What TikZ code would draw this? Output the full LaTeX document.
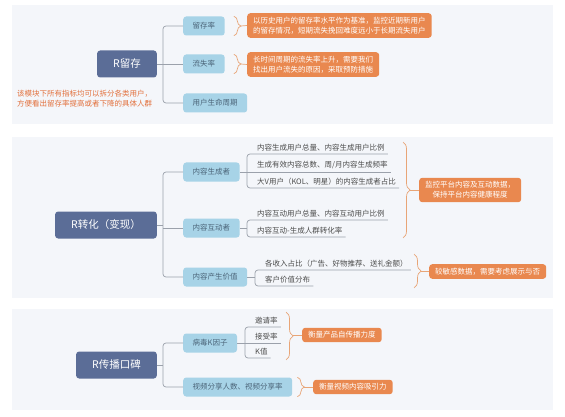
\documentclass[tikz,border=0pt]{standalone}
\usepackage{fontspec}
\setmainfont{Noto Sans CJK SC}
\usetikzlibrary{positioning,decorations.pathreplacing}
\definecolor{panelbg}{HTML}{F4F6FA}
\definecolor{rootblue}{HTML}{5B6D97}
\definecolor{childblue}{HTML}{A7D3E7}
\definecolor{childtext}{HTML}{4B6478}
\definecolor{noteorange}{HTML}{E9884F}
\definecolor{braceorange}{HTML}{E8A577}
\definecolor{linegrey}{HTML}{9BA1AB}
\definecolor{hintred}{HTML}{E2703C}

\begin{document}
\begin{tikzpicture}[x=1pt,y=-1pt,
  root/.style={fill=rootblue,rounded corners=3pt,text=white,font=\fontsize{10.5}{12}\selectfont,
              inner xsep=16pt,minimum height=27pt,anchor=east},
  child/.style={fill=childblue,rounded corners=3pt,text=childtext,font=\fontsize{7.5}{9}\selectfont,
              inner xsep=9.5pt,minimum height=19pt,anchor=west},
  leaf/.style={font=\fontsize{7.5}{9}\selectfont,text=black!70,inner xsep=3pt,inner ysep=2.5pt,anchor=south west},
  note/.style={fill=noteorange,rounded corners=3pt,text=white,font=\fontsize{7.5}{10}\selectfont,
              inner xsep=6pt,inner ysep=3.7pt,anchor=west},
  hint/.style={text=hintred,font=\fontsize{7.5}{10}\selectfont,align=left,anchor=west,inner sep=0pt},
  link/.style={draw=linegrey,line width=0.7pt,rounded corners=3pt},
  curl/.style={draw=braceorange,line width=0.7pt,decorate,decoration={brace,amplitude=7pt}},
  tick/.style={draw=braceorange,line width=0.7pt}]
\useasboundingbox (0,0) rectangle (565,417);
\fill[white] (0,0) rectangle (565,417);
\fill[panelbg] (12,5) rectangle (553,124);
\fill[panelbg] (12,137) rectangle (553,298);
\fill[panelbg] (12,309) rectangle (553,410);

% R留存
\node[root] (keep) at (157,64) {R留存};
\node[child] (rate) at (183,26) {留存率};
\node[child] (churn) at (183,64) {流失率};
\node[child] (life) at (183,103) {用户生命周期};
\coordinate (trunk1) at (163,64);
\draw[link] (keep.east) -- (trunk1);
\draw[link] (rate.west) -| (trunk1) |- (life.west);
\draw[link] (trunk1) -- (churn.west);
\node[note,align=left] (ratenote) at (247,25.5) {以历史用户的留存率水平作为基准，监控近期新用户\\的留存情况，短期流失挽回难度远小于长期流失用户};
\node[note,align=left] (churnnote) at (247,64.5) {长时间周期的流失率上升，需要我们\\找出用户流失的原因，采取预防措施};
\draw[curl] ([xshift=9pt]rate.north east) -- ([xshift=9pt]rate.south east);
\draw[tick] ([xshift=16pt]rate.east) -- (ratenote.west);
\draw[curl] ([xshift=9pt]churn.north east) -- ([xshift=9pt]churn.south east);
\draw[tick] ([xshift=16pt]churn.east) -- (churnnote.west);
\node[hint] (hint) at (17,99) {该模块下所有指标均可以拆分各类用户，\\方便看出留存率提高或者下降的具体人群};

% R转化
\node[root] (convert) at (157,225) {R转化（变现）};
\node[child] (maker) at (183,172) {内容生成者};
\node[child] (inter) at (183,228) {内容互动者};
\node[child] (value) at (183,277) {内容产生价值};
\coordinate (trunk2) at (163,225);
\draw[link] (convert.east) -- (trunk2);
\draw[link] (maker.west) -| (trunk2) |- (value.west);
\draw[link] (inter.west) -- (inter.west -| trunk2);

\node[leaf] (mk1) at (254,154) {内容生成用户总量、内容生成用户比例};
\node[leaf] (mk2) at (254,172) {生成有效内容总数、周/月内容生成频率};
\node[leaf] (mk3) at (254,188) {大V用户（KOL、明星）的内容生成者占比};
\draw[link] (mk1.south east) -- (mk1.south west) -- ++(-7,0) |- (mk3.south east);
\draw[link] (maker.east) -- (mk2.south east);

\node[leaf] (it1) at (254,220) {内容互动用户总量、内容互动用户比例};
\node[leaf] (it2) at (254,237) {内容互动-生成人群转化率};
\coordinate (itbar) at (247,220);
\draw[link] (it1.south east) -- (it1.south west) -- (itbar) |- (it2.south east);
\draw[link] (inter.east) -- (inter.east -| itbar);

\node[leaf] (vl1) at (262,270) {各收入占比（广告、好物推荐、送礼金额）};
\node[leaf] (vl2) at (262,286) {客户价值分布};
\coordinate (vlbar) at (255,270);
\draw[link] (vl1.south east) -- (vl1.south west) -- (vlbar) |- (vl2.south east);
\draw[link] (value.east) -- (value.east -| vlbar);

\node[note,align=center] (monitor) at (419,190) {监控平台内容及互动数据，\\保持平台内容健康程度};
\node[note] (sensitive) at (429,271.5) {较敏感数据，需要考虑展示与否};
\draw[curl] (403,142) -- (403,238);
\draw[tick] (410,190) -- (monitor.west);
\draw[curl] (414,254) -- (414,288);
\draw[tick] (421,271.5) -- (sensitive.west);

% R传播口碑
\node[root] (spread) at (157,365) {R传播口碑};
\node[child] (kfac) at (183,343) {病毒K因子};
\node[child] (video) at (183,387) {视频分享人数、视频分享率};
\coordinate (trunk3) at (163,365);
\draw[link] (spread.east) -- (trunk3);
\draw[link] (kfac.west) -| (trunk3) |- (video.west);

\node[leaf] (kf1) at (252,327) {邀请率};
\node[leaf] (kf2) at (252,343) {接受率};
\node[leaf] (kf3) at (252,358) {K值};
\draw[link] (kf1.south east) -- (kf1.south west) -- ++(-7,0) |- (kf3.south east);
\draw[link] (kfac.east) -- (kf2.south east);

\node[note] (selfspread) at (302,335) {衡量产品自传播力度};
\node[note] (appeal) at (313,387) {衡量视频内容吸引力};
\draw[curl] (286,312) -- (286,360);
\draw[tick] (293,335) -- (selfspread.west);
\draw[curl] ([xshift=5pt]video.north east) -- ([xshift=5pt]video.south east);
\draw[tick] ([xshift=12pt]video.east) -- (appeal.west);
\end{tikzpicture}
\end{document}
